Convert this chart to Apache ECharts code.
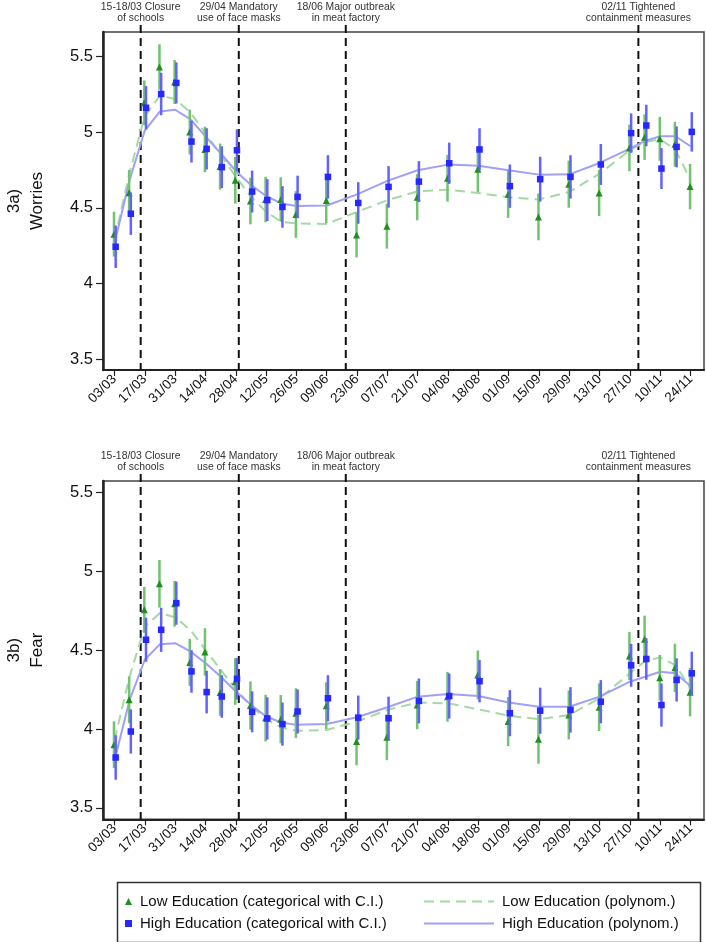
<!DOCTYPE html>
<html>
<head>
<meta charset="utf-8">
<script src="https://cdn.jsdelivr.net/npm/echarts@6/dist/echarts.min.js"></script>
<style>
html,body{margin:0;padding:0;background:#fff;}
#chart{width:706px;height:942px;}
</style>
</head>
<body>
<div id="chart"></div>
<script>
// day offsets from 03/03/2020
const days = [0,7,14,21,28,35,42,49,56,63,70,77,84,98,112,126,140,154,168,182,196,210,224,238,245,252,259,266];
const xTickDays = [0,14,28,42,56,70,84,98,112,126,140,154,168,182,196,210,224,238,252,266];
const xTickLabels = ['03/03','17/03','31/03','14/04','28/04','12/05','26/05','09/06','23/06','07/07','21/07','04/08','18/08','01/09','15/09','29/09','13/10','27/10','10/11','24/11'];
const yTicks = [3.5,4,4.5,5,5.5];

const eventDays = [12.1, 57.4, 106.8, 241.9];
const eventLabels = ['15-18/03 Closure\nof schools','29/04 Mandatory\nuse of face masks','18/06 Major outbreak\nin meat factory','02/11 Tightened\ncontainment measures'];

// 3a) Worries
const worriesLow = [4.326,4.600,5.193,5.429,5.330,5.000,4.885,4.772,4.682,4.545,4.555,4.555,4.456,4.548,4.321,4.379,4.570,4.695,4.755,4.589,4.440,4.656,4.598,4.895,4.966,4.955,4.919,4.640];
const worriesLowCI = [0.148,0.150,0.147,0.150,0.145,0.148,0.150,0.152,0.154,0.154,0.150,0.146,0.154,0.150,0.148,0.148,0.152,0.154,0.150,0.155,0.154,0.155,0.152,0.154,0.150,0.145,0.148,0.150];
const worriesHigh = [4.243,4.461,5.160,5.251,5.324,4.937,4.889,4.768,4.880,4.607,4.551,4.506,4.572,4.704,4.532,4.638,4.673,4.794,4.885,4.643,4.689,4.704,4.786,4.993,5.043,4.759,4.902,5.001];
const worriesHighCI = [0.140,0.140,0.143,0.140,0.136,0.138,0.136,0.138,0.138,0.138,0.138,0.137,0.140,0.143,0.137,0.137,0.135,0.136,0.140,0.143,0.148,0.143,0.135,0.130,0.137,0.135,0.135,0.130];
const worriesLowPoly = [4.287,4.732,5.107,5.240,5.218,5.129,4.993,4.849,4.706,4.573,4.474,4.408,4.397,4.394,4.473,4.550,4.609,4.620,4.598,4.570,4.555,4.605,4.726,4.880,4.935,4.951,4.885,4.682];
const worriesHighPoly = [4.265,4.684,5.010,5.136,5.147,5.085,4.971,4.860,4.743,4.651,4.578,4.529,4.512,4.515,4.589,4.678,4.748,4.785,4.777,4.748,4.719,4.721,4.796,4.891,4.941,4.972,4.972,4.906];

// 3b) Fear
const fearLow = [3.901,4.186,4.757,4.922,4.795,4.423,4.490,4.233,4.302,4.150,4.070,4.063,4.101,4.149,3.921,3.948,4.153,4.205,4.344,4.048,3.936,4.090,4.139,4.464,4.570,4.326,4.389,4.234];
const fearLowCI = [0.148,0.148,0.146,0.151,0.145,0.150,0.150,0.148,0.148,0.153,0.148,0.153,0.158,0.148,0.150,0.145,0.153,0.158,0.155,0.156,0.155,0.155,0.151,0.153,0.150,0.145,0.153,0.153];
const fearHigh = [3.820,3.985,4.567,4.630,4.799,4.366,4.235,4.207,4.319,4.110,4.068,4.032,4.112,4.196,4.073,4.069,4.179,4.210,4.304,4.101,4.117,4.122,4.174,4.405,4.445,4.153,4.312,4.354];
const fearHighCI = [0.141,0.140,0.140,0.140,0.137,0.135,0.135,0.135,0.132,0.130,0.134,0.137,0.140,0.146,0.140,0.137,0.142,0.143,0.134,0.146,0.146,0.144,0.137,0.136,0.132,0.137,0.137,0.137];
const fearLowPoly = [3.930,4.334,4.651,4.736,4.710,4.630,4.503,4.376,4.254,4.148,4.063,4.011,3.989,3.995,4.048,4.122,4.168,4.164,4.126,4.085,4.063,4.090,4.196,4.354,4.432,4.455,4.406,4.259];
const fearHighPoly = [3.800,4.186,4.440,4.539,4.545,4.493,4.419,4.334,4.239,4.154,4.080,4.042,4.027,4.033,4.075,4.139,4.206,4.223,4.210,4.169,4.142,4.142,4.206,4.301,4.332,4.364,4.354,4.273];

const NAME_LOW_CAT = 'Low Education (categorical with C.I.)';
const NAME_HIGH_CAT = 'High Education (categorical with C.I.)';
const NAME_LOW_POLY = 'Low Education (polynom.)';
const NAME_HIGH_POLY = 'High Education (polynom.)';

const FONT = "'Liberation Sans', Arial, sans-serif";
const C_LOW = '#1f8f1f', C_LOW_CI = '#72c272', C_LOW_POLY = '#a3d9a3';
const C_HIGH = '#2727ff', C_HIGH_CI = '#6262ff', C_HIGH_POLY = '#a0a0f6';

const panels = [
  {title:'3a)\nWorries', low:worriesLow, lowCI:worriesLowCI, high:worriesHigh, highCI:worriesHighCI, lowPoly:worriesLowPoly, highPoly:worriesHighPoly, top:32, height:338, ymin:3.43, ymax:5.66},
  {title:'3b)\nFear', low:fearLow, lowCI:fearLowCI, high:fearHigh, highCI:fearHighCI, lowPoly:fearLowPoly, highPoly:fearHighPoly, top:481, height:338.3, ymin:3.428, ymax:5.574}
];

function tickLabel(v){
  const i = xTickDays.indexOf(Math.round(v));
  return i >= 0 ? xTickLabels[i] : '';
}

function ciRender(dx, color){
  return function(params, api){
    const x = api.value(0), lo = api.value(1), hi = api.value(2);
    const a = api.coord([x, lo]), b = api.coord([x, hi]);
    return {type:'line', shape:{x1:a[0]+dx, y1:a[1], x2:b[0]+dx, y2:b[1]},
            style:{stroke:color, lineWidth:2.5}};
  };
}

function eventRender(ymin, ymax){
  return function(params, api){
    const x = api.value(0);
    const t = api.coord([x, ymax]), b = api.coord([x, ymin]);
    return {type:'group', children:[
      {type:'line', shape:{x1:t[0], y1:t[1]-7, x2:b[0], y2:b[1]},
       style:{stroke:'#111', lineWidth:2, lineDash:[8,5]}},
      {type:'text', x:t[0], y:t[1]-8.5,
       style:{text:eventLabels[params.dataIndex], fill:'#333', font:'10.4px ' + FONT,
              align:'center', verticalAlign:'bottom', lineHeight:11}}
    ]};
  };
}

const grid = [], xAxis = [], yAxis = [], series = [];
panels.forEach((p, k) => {
  grid.push({left:103, top:p.top, width:601, height:p.height, show:true, borderColor:'#444', borderWidth:1.5,
             backgroundColor:'transparent', containLabel:false, outerBoundsMode:'none'});
  xAxis.push({type:'value', gridIndex:k, min:-5.3, max:272.2,
    axisLine:{show:true, onZero:false, lineStyle:{color:'#222', width:2}},
    axisTick:{show:true, customValues:xTickDays, length:6, lineStyle:{color:'#222', width:1.2}},
    axisLabel:{customValues:xTickDays, formatter:tickLabel, rotate:45, fontSize:13.5, color:'#111', margin:7, fontFamily:FONT},
    splitLine:{show:false}});
  yAxis.push({type:'value', gridIndex:k, min:p.ymin, max:p.ymax,
    name:p.title, nameLocation:'middle', nameGap:54, nameRotate:90,
    nameTextStyle:{fontSize:17, color:'#111', lineHeight:23, fontFamily:FONT},
    axisLine:{show:true, onZero:false, lineStyle:{color:'#222', width:2.5}},
    axisTick:{show:true, customValues:yTicks, length:7, lineStyle:{color:'#222', width:1.2}},
    axisLabel:{customValues:yTicks, fontSize:16.5, color:'#111', margin:10, fontFamily:FONT},
    splitLine:{show:false}});

  series.push({type:'custom', name:'events'+k, xAxisIndex:k, yAxisIndex:k, clip:false, z:1,
    renderItem:eventRender(p.ymin, p.ymax), data:eventDays.map(d=>[d]), encode:{x:0}, silent:true});
  series.push({type:'line', name:NAME_LOW_POLY, xAxisIndex:k, yAxisIndex:k, z:2,
    data:days.map((d,i)=>[d, p.lowPoly[i]]), symbol:'none',
    lineStyle:{color:C_LOW_POLY, width:2, type:[10,6]}, itemStyle:{color:C_LOW_POLY}});
  series.push({type:'line', name:NAME_HIGH_POLY, xAxisIndex:k, yAxisIndex:k, z:2,
    data:days.map((d,i)=>[d, p.highPoly[i]]), symbol:'none',
    lineStyle:{color:C_HIGH_POLY, width:2}, itemStyle:{color:C_HIGH_POLY}});
  series.push({type:'custom', name:'ciLow'+k, xAxisIndex:k, yAxisIndex:k, z:3,
    renderItem:ciRender(-0.5, C_LOW_CI), encode:{x:0, y:[1,2]},
    data:days.map((d,i)=>[d, p.low[i]-p.lowCI[i], p.low[i]+p.lowCI[i]])});
  series.push({type:'scatter', name:NAME_LOW_CAT, xAxisIndex:k, yAxisIndex:k, z:4,
    symbol:'triangle', symbolSize:7, symbolOffset:[-0.5,0],
    data:days.map((d,i)=>[d, p.low[i]]), itemStyle:{color:C_LOW, opacity:1}});
  series.push({type:'custom', name:'ciHigh'+k, xAxisIndex:k, yAxisIndex:k, z:5,
    renderItem:ciRender(1.2, C_HIGH_CI), encode:{x:0, y:[1,2]},
    data:days.map((d,i)=>[d, p.high[i]-p.highCI[i], p.high[i]+p.highCI[i]])});
  series.push({type:'scatter', name:NAME_HIGH_CAT, xAxisIndex:k, yAxisIndex:k, z:6,
    symbol:'rect', symbolSize:6.5, symbolOffset:[1.2,0],
    data:days.map((d,i)=>[d, p.high[i]]), itemStyle:{color:C_HIGH, opacity:1}});
});

const chart = echarts.init(document.getElementById('chart'), null, {renderer:'canvas'});
chart.setOption({
  animation:false,
  backgroundColor:'#fff',
  textStyle:{fontFamily:FONT},
  grid, xAxis, yAxis, series,
  legend:[
    {orient:'vertical', left:120, top:889, itemWidth:7, itemHeight:7, itemGap:7,
     data:[NAME_LOW_CAT, NAME_HIGH_CAT],
     textStyle:{fontSize:15, color:'#111', fontFamily:FONT, padding:[0,0,0,3]}},
    {orient:'vertical', left:418, top:889, itemWidth:70, itemHeight:14, itemGap:7,
     itemStyle:{opacity:0},
     data:[NAME_LOW_POLY, NAME_HIGH_POLY],
     textStyle:{fontSize:15, color:'#111', fontFamily:FONT, padding:[0,0,0,3]}}
  ],
  graphic:[
    {type:'rect', left:115, top:880, shape:{width:583, height:60},
     style:{fill:'none', stroke:'#333', lineWidth:1.5}, silent:true}
  ]
});
</script>
</body>
</html>
